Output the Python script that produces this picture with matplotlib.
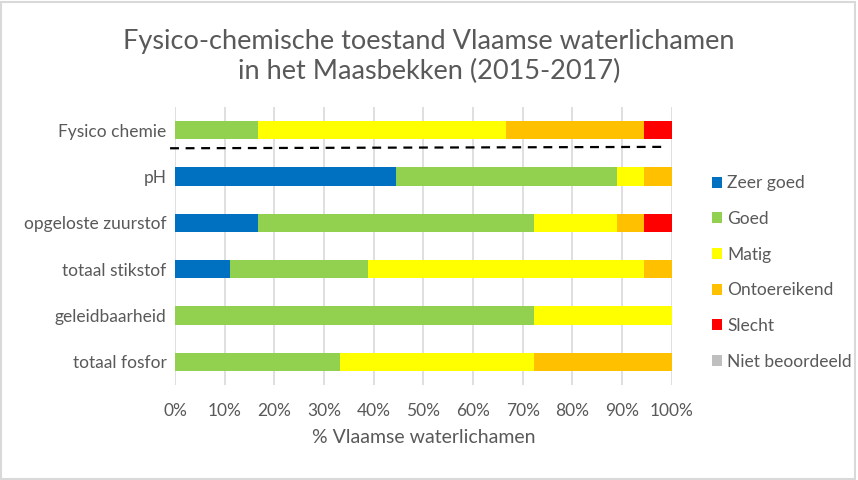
"""Fysico-chemische toestand Vlaamse waterlichamen - Maasbekken (2015-2017)."""
import numpy as np
import matplotlib.pyplot as plt
from matplotlib.patches import Rectangle

plt.rcParams["font.family"] = ["Lato", "DejaVu Sans"]

categories = ["Fysico chemie", "pH", "opgeloste zuurstof", "totaal stikstof",
              "geleidbaarheid", "totaal fosfor"]
classes = ["Zeer goed", "Goed", "Matig", "Ontoereikend", "Slecht", "Niet beoordeeld"]
colors = ["#0070C0", "#92D050", "#FFFF00", "#FFC000", "#FF0000", "#BFBFBF"]

# % of water bodies per class, one list per class (same order as categories)
zeer_goed = [0.0, 44.4, 16.7, 11.1, 0.0, 0.0]
goed = [16.7, 44.5, 55.5, 27.8, 72.2, 33.3]
matig = [50.0, 5.5, 16.7, 55.5, 27.8, 38.9]
ontoereikend = [27.7, 5.6, 5.5, 5.6, 0.0, 27.8]
slecht = [5.6, 0.0, 5.6, 0.0, 0.0, 0.0]
niet_beoordeeld = [0.0, 0.0, 0.0, 0.0, 0.0, 0.0]

TXT = "#595959"


def main():
    fig = plt.figure(figsize=(8.58, 4.8), dpi=100)
    ax = fig.add_axes([0.204, 0.198, 0.579, 0.579])

    series = [zeer_goed, goed, matig, ontoereikend, slecht, niet_beoordeeld]
    y = np.arange(len(categories))
    left = np.zeros(len(categories))
    for name, vals, col in zip(classes, series, colors):
        vals = np.array(vals)
        ax.barh(y, vals, left=left, height=0.39, color=col, label=name, zorder=3)
        left += vals

    ax.set_xlim(0, 100)
    ax.set_ylim(len(categories) - 0.5, -0.5)
    ax.set_yticks(y)
    ax.set_yticklabels(categories)
    ax.set_xticks(np.arange(0, 101, 10))
    ax.set_xticklabels([f"{v}%" for v in range(0, 101, 10)])
    ax.tick_params(axis="x", length=0, pad=13, labelsize=12.5, labelcolor=TXT)
    ax.tick_params(axis="y", length=0, pad=6, labelsize=12.5, labelcolor=TXT)
    for s in ax.spines.values():
        s.set_visible(False)
    ax.grid(axis="x", color="#D9D9D9", lw=1.2, zorder=0)
    ax.set_xlabel("% Vlaamse waterlichamen", fontsize=14, color=TXT, labelpad=7)

    # dashed separator between the overall score and the parameters
    ax.plot([-1, 98.5], [0.39, 0.36], ls=(0, (4, 3)), color="black", lw=1.6,
            clip_on=False, zorder=4)

    ax.legend(loc="upper left", bbox_to_anchor=(1.05, 0.81), frameon=False,
              handlelength=0.55, handleheight=0.6, handletextpad=0.3,
              labelspacing=1.13, fontsize=12.5, labelcolor=TXT)

    fig.suptitle("Fysico-chemische toestand Vlaamse waterlichamen\nin het Maasbekken (2015-2017)",
                 y=0.94, fontsize=19.5, color=TXT, linespacing=1.25)

    fig.patches.append(Rectangle((0.001, 0.002), 0.996, 0.994, transform=fig.transFigure,
                                 fill=False, edgecolor="#D9D9D9", lw=1.5))
    fig.savefig("out.png", dpi=100)


if __name__ == "__main__":
    main()
